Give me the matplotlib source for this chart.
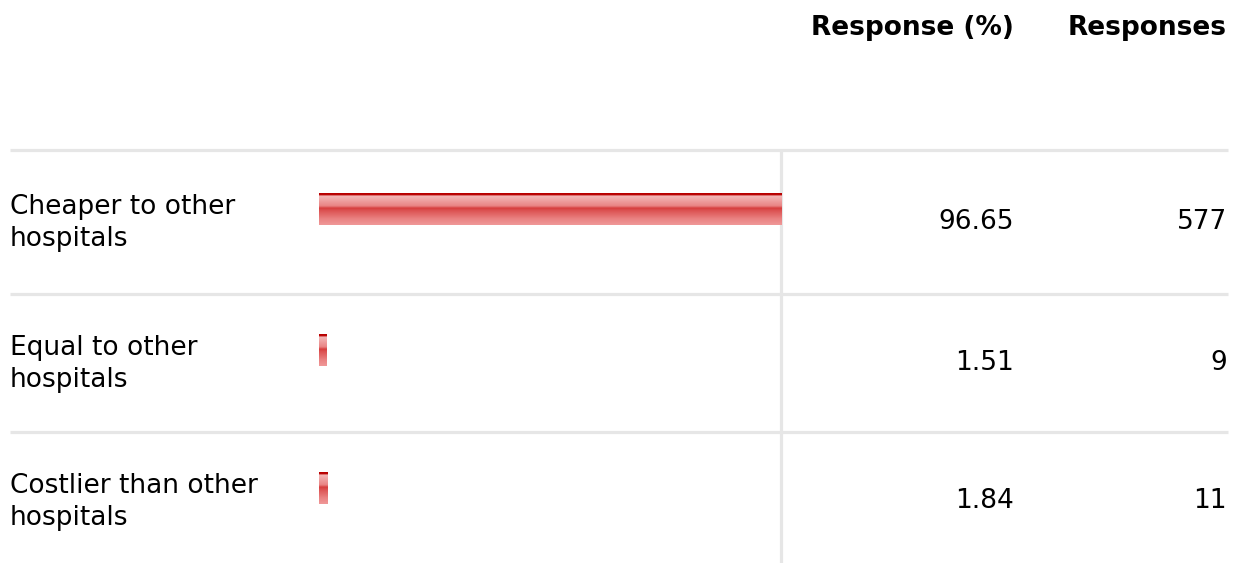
import numpy as np
import matplotlib.pyplot as plt
from matplotlib.colors import LinearSegmentedColormap

labels = ["Cheaper to other\nhospitals", "Equal to other\nhospitals", "Costlier than other\nhospitals"]
pct = [96.65, 1.51, 1.84]
counts = [577, 9, 11]
headers = ["Response (%)", "Responses"]

W, H = 1238, 563
fig = plt.figure(figsize=(W / 100, H / 100), dpi=100)

# table axes in pixel coords
ax = fig.add_axes([0, 0, 1, 1])
ax.set_xlim(0, W)
ax.set_ylim(H, 0)
ax.axis("off")

grid = "#e6e6e6"
row_top = [150, 294, 432]
row_mid = [222, 363, 501]
for y in row_top:
    ax.plot([10, 1228], [y, y], color=grid, lw=2.3, solid_capstyle="butt")
ax.plot([781, 781], [150, H], color=grid, lw=2.3, solid_capstyle="butt")

fs = 19
ax.text(1014, 28, headers[0], ha="right", va="center", fontsize=fs, fontweight="bold")
ax.text(1227, 28, headers[1], ha="right", va="center", fontsize=fs, fontweight="bold")

for lab, p, c, y in zip(labels, pct, counts, row_mid):
    ax.text(10, y + 1, lab, ha="left", va="center", fontsize=fs, linespacing=1.3)
    ax.text(1014, y, f"{p:.2f}", ha="right", va="center", fontsize=fs)
    ax.text(1227, y, str(c), ha="right", va="center", fontsize=fs)

# bars
bx = fig.add_axes([319 / W, 0, 462 / W, 1])
bx.set_xlim(0, max(pct))
bx.set_ylim(H, 0)
bx.axis("off")

cmap = LinearSegmentedColormap.from_list("barg", [
    (0.0, "#b80000"), (0.06, "#b80000"), (0.07, "#f4baba"),
    (0.4, "#e98484"), (0.47, "#d63c3c"), (0.55, "#dc5252"),
    (0.8, "#e98080"), (1.0, "#f09898")])
grad = np.linspace(0, 1, 64).reshape(-1, 1)
bar_h = 32
for p, y in zip(pct, row_mid):
    top = y - 29
    rects = bx.barh(top + bar_h / 2, p, height=bar_h, color="none", edgecolor="none")
    im = bx.imshow(grad, cmap=cmap, aspect="auto", extent=(0, p, top + bar_h, top),
                   interpolation="bilinear")
    im.set_clip_path(rects[0])

bx.set_xlim(0, max(pct))
bx.set_ylim(H, 0)

fig.savefig("out.png", dpi=100)
